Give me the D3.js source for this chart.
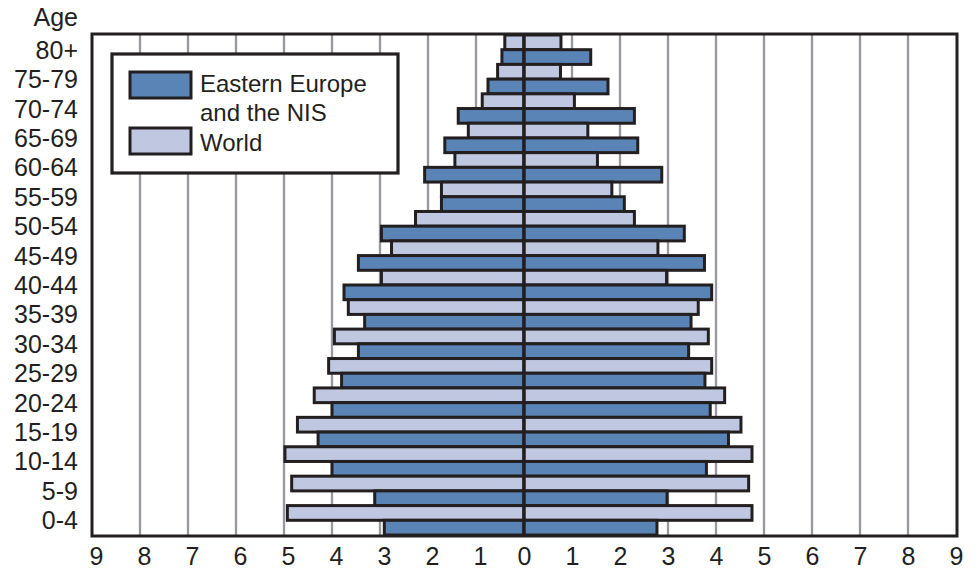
<!DOCTYPE html>
<html>
  <head>
    <meta charset="utf-8">
    <script type="text/javascript" src="https://d3js.org/d3.v7.min.js"></script>
    <style>
      body { margin: 0; background: #fff; }
      text { font-family: "Liberation Sans", Arial, sans-serif; fill: #231f20; }
    </style>
  </head>
  <body>
    <script type="text/javascript">
      var width = 977,
          height = 571;

      // age groups, top to bottom
      var ages = ["80+", "75-79", "70-74", "65-69", "60-64", "55-59", "50-54", "45-49", "40-44",
                  "35-39", "30-34", "25-29", "20-24", "15-19", "10-14", "5-9", "0-4"];

      // percent of population, left half / right half
      var worldLeft  = [0.40, 0.55, 0.87, 1.16, 1.44, 1.72, 2.26, 2.76, 2.97, 3.66, 3.95, 4.07, 4.37, 4.72, 4.98, 4.84, 4.93];
      var worldRight = [0.77, 0.76, 1.05, 1.33, 1.53, 1.83, 2.30, 2.79, 2.97, 3.63, 3.84, 3.91, 4.18, 4.52, 4.75, 4.68, 4.75];
      var eeLeft     = [0.46, 0.75, 1.37, 1.65, 2.07, 1.72, 2.97, 3.45, 3.75, 3.32, 3.45, 3.80, 4.00, 4.29, 4.00, 3.11, 2.91];
      var eeRight    = [1.39, 1.75, 2.30, 2.37, 2.87, 2.09, 3.34, 3.76, 3.91, 3.48, 3.43, 3.77, 3.88, 4.26, 3.80, 2.98, 2.77];

      var tickValues = [-9, -8, -7, -6, -5, -4, -3, -2, -1, 0, 1, 2, 3, 4, 5, 6, 7, 8, 9];
      var legendLabels = [["Eastern Europe", "and the NIS"], ["World"]];

      var ink = "#231f20",
          darkBlue = "#5b84b6",
          lightBlue = "#bfc8e0",
          gridGray = "#98999d";

      var svg = d3.select("body").append("svg")
                  .attr("width", width)
                  .attr("height", height);

      var x = d3.scaleLinear().domain([-9, 9]).range([92, 956]);
      var y = d3.scaleBand().domain(ages).range([35, 535]).paddingInner(0);

      var plotTop = 34, plotBottom = 536;

      //gridlines
      svg.append("g")
          .selectAll("line")
          .data(tickValues.filter(function(d) { return d !== 0 && Math.abs(d) !== 9; }))
          .enter()
          .append("line")
          .attr("x1", function(d) { return x(d); })
          .attr("x2", function(d) { return x(d); })
          .attr("y1", plotTop)
          .attr("y2", plotBottom)
          .attr("stroke", gridGray)
          .attr("stroke-width", 2.3);

      //bars: World on top half of each band, Eastern Europe on bottom half
      var rows = ages.map(function(a, i) {
          return [
            {age: a, left: worldLeft[i], right: worldRight[i], color: lightBlue, off: 0},
            {age: a, left: eeLeft[i], right: eeRight[i], color: darkBlue, off: 1}
          ];
      }).flat();

      var half = y.bandwidth() / 2;
      var bars = svg.append("g");
      bars.selectAll("rect.l")
          .data(rows)
          .enter()
          .append("rect")
          .attr("class", "l")
          .attr("x", function(d) { return x(-d.left); })
          .attr("width", function(d) { return x(0) - x(-d.left); })
          .attr("y", function(d) { return y(d.age) + d.off * half; })
          .attr("height", half)
          .attr("fill", function(d) { return d.color; })
          .attr("stroke", ink)
          .attr("stroke-width", 3);
      bars.selectAll("rect.r")
          .data(rows)
          .enter()
          .append("rect")
          .attr("class", "r")
          .attr("x", x(0))
          .attr("width", function(d) { return x(d.right) - x(0); })
          .attr("y", function(d) { return y(d.age) + d.off * half; })
          .attr("height", half)
          .attr("fill", function(d) { return d.color; })
          .attr("stroke", ink)
          .attr("stroke-width", 3);

      //center line
      svg.append("line")
          .attr("x1", x(0)).attr("x2", x(0))
          .attr("y1", plotTop).attr("y2", plotBottom)
          .attr("stroke", ink)
          .attr("stroke-width", 3);

      //frame
      svg.append("rect")
          .attr("x", 92).attr("y", plotTop)
          .attr("width", 957 - 92).attr("height", plotBottom - plotTop)
          .attr("fill", "none")
          .attr("stroke", ink)
          .attr("stroke-width", 3);

      //axes
      var yAxis = svg.append("g")
          .attr("transform", "translate(92,0)")
          .call(d3.axisLeft(y).tickSize(0).tickPadding(14));
      yAxis.select(".domain").remove();
      yAxis.selectAll("text")
          .attr("font-size", 25)
          .attr("font-family", "Liberation Sans, Arial, sans-serif")
          .attr("fill", ink)
          .attr("dy", "0.36em");

      var xAxis = svg.append("g")
          .attr("transform", "translate(0," + plotBottom + ")")
          .call(d3.axisBottom(x).tickValues(tickValues).tickSize(0).tickPadding(11)
                .tickFormat(function(d) { return Math.abs(d); }));
      xAxis.select(".domain").remove();
      xAxis.selectAll("text")
          .attr("font-size", 25)
          .attr("font-family", "Liberation Sans, Arial, sans-serif")
          .attr("fill", ink)
          .attr("dx", function(d) { return d < 0 ? 4 : 0; });

      svg.append("text")
          .attr("x", 78)
          .attr("y", 26)
          .attr("text-anchor", "end")
          .attr("font-size", 25)
          .text("Age");

      //legend
      var legend = svg.append("g").attr("class", "legend");
      legend.append("rect")
          .attr("x", 112).attr("y", 54)
          .attr("width", 286).attr("height", 119)
          .attr("fill", "#fff")
          .attr("stroke", ink)
          .attr("stroke-width", 3.2);

      var swatches = [darkBlue, lightBlue];
      var swatchY = [72, 128];
      swatches.forEach(function(c, i) {
          legend.append("rect")
              .attr("x", 130).attr("y", swatchY[i])
              .attr("width", 61).attr("height", 26)
              .attr("fill", c)
              .attr("stroke", ink)
              .attr("stroke-width", 3);
      });

      var legendText = legend.append("g");
      legendText.append("text")
          .attr("x", 200).attr("y", 92)
          .attr("font-size", 24)
          .text(legendLabels[0][0]);
      legendText.append("text")
          .attr("x", 200).attr("y", 121)
          .attr("font-size", 24)
          .text(legendLabels[0][1]);
      legendText.append("text")
          .attr("x", 200).attr("y", 151)
          .attr("font-size", 24)
          .text(legendLabels[1][0]);
    </script>
  </body>
</html>
